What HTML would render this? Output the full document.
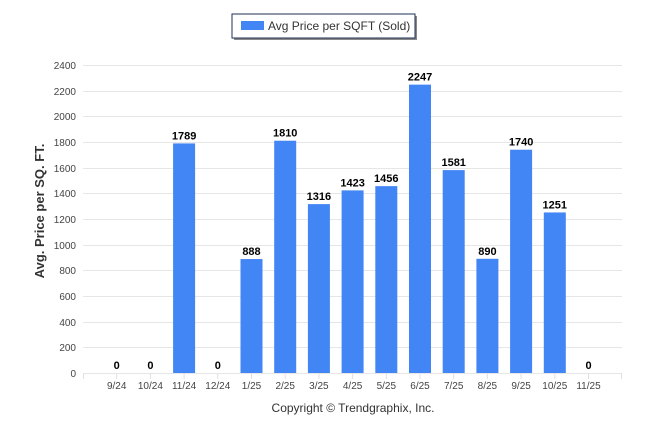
<!DOCTYPE html>
<html><head><meta charset="utf-8"><style>
body{margin:0;background:#fff;}
svg{display:block;font-family:"Liberation Sans",Arial,sans-serif;}
</style></head><body>
<svg width="646" height="434" viewBox="0 0 646 434">
<rect x="234" y="16" width="183" height="24" fill="#888"/>
<rect x="232" y="14" width="183" height="24" fill="#fff" stroke="#1f2f55" stroke-width="1"/>
<rect x="241" y="21" width="23" height="9" fill="#4285f4"/>
<text x="268" y="30" font-size="12" fill="#333">Avg Price per SQFT (Sold)</text>
<g stroke="#e6e6e6" stroke-width="1">
<line x1="83" x2="622" y1="65.5" y2="65.5"/><line x1="83" x2="622" y1="91.5" y2="91.5"/>
<line x1="83" x2="622" y1="116.5" y2="116.5"/><line x1="83" x2="622" y1="142.5" y2="142.5"/>
<line x1="83" x2="622" y1="168.5" y2="168.5"/><line x1="83" x2="622" y1="193.5" y2="193.5"/>
<line x1="83" x2="622" y1="219.5" y2="219.5"/><line x1="83" x2="622" y1="245.5" y2="245.5"/>
<line x1="83" x2="622" y1="270.5" y2="270.5"/><line x1="83" x2="622" y1="296.5" y2="296.5"/>
<line x1="83" x2="622" y1="322.5" y2="322.5"/><line x1="83" x2="622" y1="347.5" y2="347.5"/>
<line x1="83" x2="622" y1="373.5" y2="373.5"/>
</g>
<g font-size="10" fill="#444" text-anchor="end">
<text x="76" y="69">2400</text><text x="76" y="95">2200</text><text x="76" y="120">2000</text>
<text x="76" y="146">1800</text><text x="76" y="172">1600</text><text x="76" y="197">1400</text>
<text x="76" y="223">1200</text><text x="76" y="249">1000</text><text x="76" y="274">800</text>
<text x="76" y="300">600</text><text x="76" y="326">400</text><text x="76" y="351">200</text>
<text x="76" y="377">0</text>
</g>
<text transform="translate(44,211) rotate(-90)" font-size="13" font-weight="bold" fill="#333" text-anchor="middle">Avg. Price per SQ. FT.</text>
<g id="bars"></g>
<g stroke="#e0e0e0"><line x1="83.5" x2="83.5" y1="373" y2="379"/><line x1="621.5" x2="621.5" y1="373" y2="379"/></g>
<g id="xl" font-size="10" fill="#444" text-anchor="middle"></g>
<text x="353" y="412" font-size="12" fill="#333" text-anchor="middle">Copyright © Trendgraphix, Inc.</text>
<script>
var v=[0,0,1789,0,888,1810,1316,1423,1456,2247,1581,890,1740,1251,0];
var l=["9/24","10/24","11/24","12/24","1/25","2/25","3/25","4/25","5/25","6/25","7/25","8/25","9/25","10/25","11/25"];
var ns="http://www.w3.org/2000/svg",b=document.getElementById("bars"),x=document.getElementById("xl");
for(var i=0;i<15;i++){var cx=83+33.7*(i+1),h=v[i]*308/2400,y=373-h;
if(v[i]>0){var r=document.createElementNS(ns,"rect");r.setAttribute("x",cx-11);r.setAttribute("y",y);r.setAttribute("width",22);r.setAttribute("height",h);r.setAttribute("fill","#4285f4");b.appendChild(r);}
var t=document.createElementNS(ns,"text");t.setAttribute("x",cx);t.setAttribute("y",y-4);t.setAttribute("font-size","11");t.setAttribute("font-weight","bold");t.setAttribute("text-anchor","middle");t.setAttribute("fill","#000");t.textContent=v[i];b.appendChild(t);
var k=document.createElementNS(ns,"line");k.setAttribute("x1",cx);k.setAttribute("x2",cx);k.setAttribute("y1",373);k.setAttribute("y2",379);k.setAttribute("stroke","#e0e0e0");b.appendChild(k);
var u=document.createElementNS(ns,"text");u.setAttribute("x",cx);u.setAttribute("y",389);u.textContent=l[i];x.appendChild(u);}
</script>
</svg>
</body></html>
